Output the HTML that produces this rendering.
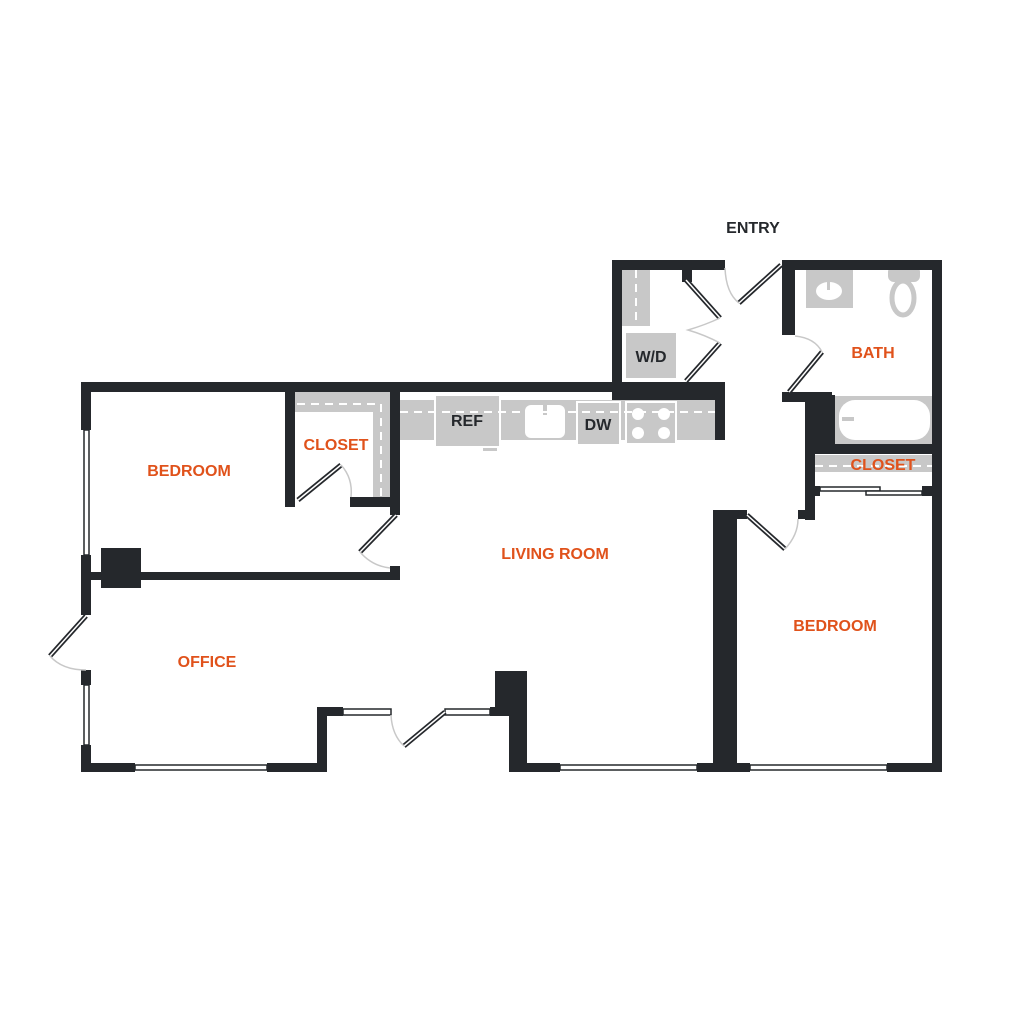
<!DOCTYPE html>
<html><head><style>
html,body{margin:0;padding:0;background:#fff;}
svg{display:block;}
text{font-family:"Liberation Sans",sans-serif;font-weight:bold;}
</style></head><body>
<svg width="1024" height="1024" viewBox="0 0 1024 1024" xmlns="http://www.w3.org/2000/svg">
<g fill="#c8c8c8">
 <rect x="400" y="400" width="316" height="40"/>
 <rect x="295" y="392" width="95" height="20"/>
 <rect x="373" y="392" width="17" height="105"/>
 <rect x="622" y="270" width="28" height="56"/>
 <rect x="626" y="333" width="50" height="45"/>
 <rect x="806" y="270" width="47" height="38"/>
 <rect x="888" y="266" width="32" height="16" rx="6"/>
 <ellipse cx="903" cy="298" rx="11" ry="17" fill="none" stroke="#c8c8c8" stroke-width="5"/>
 <rect x="835" y="396" width="97" height="48"/>
 <rect x="815" y="455" width="117" height="17"/>
 <rect x="483" y="446" width="14" height="5"/>
</g>
<rect x="435" y="395" width="65" height="52" fill="#c8c8c8" stroke="#fff" stroke-width="2"/>
<rect x="577" y="402" width="43" height="43" fill="#c8c8c8" stroke="#fff" stroke-width="2"/>
<rect x="626" y="402" width="50" height="42" fill="#c8c8c8" stroke="#fff" stroke-width="2"/>
<g fill="#fff"><circle cx="638" cy="414" r="6"/><circle cx="664" cy="414" r="6"/><circle cx="638" cy="433" r="6"/><circle cx="664" cy="433" r="6"/>
<rect x="525" y="405" width="40" height="33" rx="6"/>
<ellipse cx="829" cy="291" rx="13" ry="9"/>
<rect x="839" y="400" width="91" height="40" rx="16"/></g>
<rect x="543" y="405" width="4" height="10" fill="#c8c8c8"/>
<rect x="827" y="280" width="3" height="10" fill="#c8c8c8"/>
<rect x="842" y="417" width="12" height="4" fill="#c8c8c8"/>
<g stroke="#fff" stroke-width="2" stroke-dasharray="8,6" fill="none">
 <path d="M400 412 H716"/><path d="M297 404 H381 V497"/><path d="M636 270 V326"/><path d="M815 466 H932"/>
</g>
<g fill="#25282c">
 <rect x="81" y="382" width="644" height="10"/>
 <rect x="612" y="382" width="113" height="18"/>
 <rect x="715" y="382" width="10" height="58"/>
 <rect x="81" y="382" width="10" height="48"/>
 <rect x="81" y="555" width="10" height="60"/>
 <rect x="81" y="670" width="10" height="15"/>
 <rect x="81" y="745" width="10" height="27"/>
 <rect x="81" y="763" width="54" height="9"/>
 <rect x="267" y="763" width="60" height="9"/>
 <rect x="317" y="707" width="10" height="65"/>
 <rect x="317" y="707" width="26" height="9"/>
 <rect x="490" y="707" width="20" height="9"/>
 <rect x="495" y="671" width="32" height="45"/>
 <rect x="509" y="671" width="18" height="101"/>
 <rect x="509" y="763" width="51" height="9"/>
 <rect x="697" y="763" width="53" height="9"/>
 <rect x="887" y="763" width="55" height="9"/>
 <rect x="713" y="510" width="24" height="262"/>
 <rect x="713" y="510" width="34" height="9"/>
 <rect x="932" y="260" width="10" height="512"/>
 <rect x="782" y="260" width="160" height="10"/>
 <rect x="782" y="260" width="13" height="75"/>
 <rect x="782" y="392" width="50" height="10"/>
 <rect x="805" y="395" width="30" height="50"/>
 <rect x="805" y="395" width="10" height="125"/>
 <rect x="798" y="510" width="17" height="9"/>
 <rect x="815" y="444" width="117" height="10"/>
 <rect x="815" y="486" width="5" height="10"/>
 <rect x="922" y="486" width="10" height="10"/>
 <rect x="612" y="260" width="10" height="132"/>
 <rect x="612" y="260" width="113" height="10"/>
 <rect x="682" y="270" width="10" height="12"/>
 <rect x="285" y="392" width="10" height="115"/>
 <rect x="390" y="392" width="10" height="123"/>
 <rect x="350" y="497" width="45" height="10"/>
 <rect x="81" y="572" width="319" height="8"/>
 <rect x="390" y="566" width="10" height="14"/>
 <rect x="101" y="548" width="40" height="40"/>
</g>
<g fill="#fff" stroke="#25282c" stroke-width="1.5">
 <rect x="84" y="430" width="5" height="125"/>
 <rect x="84" y="685" width="5" height="60"/>
 <rect x="135" y="765" width="132" height="5"/>
 <rect x="343" y="709" width="48" height="6"/>
 <rect x="445" y="709" width="45" height="6"/>
 <rect x="560" y="765" width="137" height="5"/>
 <rect x="750" y="765" width="137" height="5"/>
 <rect x="820" y="487" width="60" height="4"/>
 <rect x="866" y="491" width="56" height="4"/>
</g>
<g stroke="#25282c" stroke-width="5" stroke-linecap="butt">
 <line x1="50" y1="656" x2="86" y2="616"/>
 <line x1="404" y1="746" x2="445" y2="712"/>
 <line x1="298" y1="500" x2="341" y2="465"/>
 <line x1="360" y1="552" x2="396" y2="515"/>
 <line x1="686" y1="280" x2="720" y2="318"/>
 <line x1="686" y1="381" x2="720" y2="343"/>
 <line x1="739" y1="303" x2="781" y2="265"/>
 <line x1="789" y1="392" x2="822" y2="352"/>
 <line x1="747" y1="515" x2="785" y2="549"/>
</g>
<g stroke="#fff" stroke-width="1.5">
 <line x1="50" y1="656" x2="86" y2="616"/>
 <line x1="404" y1="746" x2="445" y2="712"/>
 <line x1="298" y1="500" x2="341" y2="465"/>
 <line x1="360" y1="552" x2="396" y2="515"/>
 <line x1="686" y1="280" x2="720" y2="318"/>
 <line x1="686" y1="381" x2="720" y2="343"/>
 <line x1="739" y1="303" x2="781" y2="265"/>
 <line x1="789" y1="392" x2="822" y2="352"/>
 <line x1="747" y1="515" x2="785" y2="549"/>
</g>
<g stroke="#c8c8c8" stroke-width="1.5" fill="none">
 <path d="M50 656 Q62 670 86 670"/>
 <path d="M391 715 Q392 735 404 746"/>
 <path d="M341 465 Q353 478 351 497"/>
 <path d="M360 552 Q372 566 390 568"/>
 <path d="M720 318 Q705 325 688 330 Q705 335 720 343"/>
 <path d="M725 268 Q726 293 739 303"/>
 <path d="M795 336 Q815 338 822 352"/>
 <path d="M785 549 Q798 535 798 519"/>
</g>
<g font-size="16" fill="#e0521b" text-anchor="middle">
 <text x="189" y="476">BEDROOM</text>
 <text x="336" y="450">CLOSET</text>
 <text x="555" y="559">LIVING ROOM</text>
 <text x="207" y="667">OFFICE</text>
 <text x="873" y="358">BATH</text>
 <text x="883" y="470">CLOSET</text>
 <text x="835" y="631">BEDROOM</text>
</g>
<g font-size="16" fill="#25282c" text-anchor="middle">
 <text x="753" y="233">ENTRY</text>
 <text x="467" y="426">REF</text>
 <text x="598" y="430">DW</text>
 <text x="651" y="362">W/D</text>
</g>
</svg>
</body></html>
